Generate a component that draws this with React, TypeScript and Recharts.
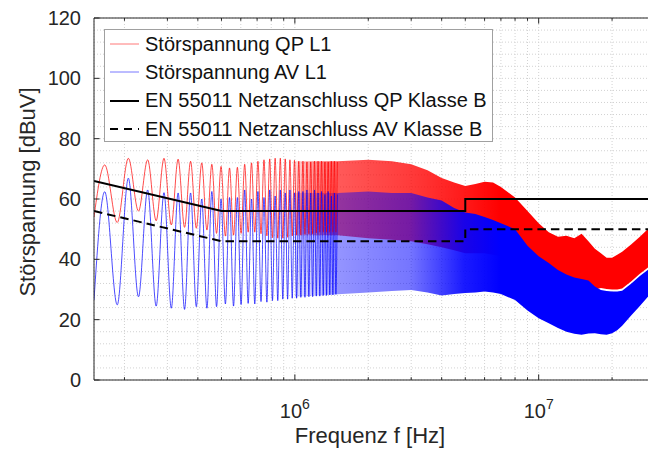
import React from "react";
import {
  ComposedChart,
  Line,
  Area,
  XAxis,
  YAxis,
  CartesianGrid,
  ReferenceLine,
} from "recharts";

const FONT = "'Liberation Sans', Arial, Helvetica, sans-serif";
const AXIS = "#262626";

// axes box in page pixels
const W = 660;
const H = 450;
const PLOT_LEFT = 94;
const PLOT_TOP = 18;
const PLOT_BOTTOM = 380;

// harmonics that can still be told apart (kHz)
const peakKHz = [
  166, 207.5, 249, 290.5, 332, 373.5, 415, 456.5, 498, 539.5, 581, 622.5, 664,
  705.5, 747, 788.5, 830, 871.5, 913, 954.5, 996, 1037.5, 1079, 1120.5, 1162,
  1203.5, 1245, 1286.5, 1328, 1369.5, 1411, 1452.5, 1494,
];
const valleyKHz = [
  186.8, 228.3, 269.8, 311.3, 352.8, 394.3, 435.8, 477.3, 518.8, 560.3, 601.8,
  643.3, 684.8, 726.3, 767.8, 809.3, 850.8, 892.3, 933.8, 975.3, 1016.8,
  1058.3, 1099.8, 1141.3, 1182.8, 1224.3, 1265.8, 1307.3, 1348.8, 1390.3,
  1431.8, 1473.3,
];
const qpStart = 54;
const qpPeaks = [
  71.3, 73.5, 73, 73.5, 73.2, 72.5, 72, 71.5, 70.8, 70.3, 70.5, 71.5, 72, 72.5,
  73, 73.3, 73.5, 73.5, 73.3, 73, 72.8, 72.5, 72.5, 72.3, 72.3, 72.5, 72.5,
  72.5, 72.3, 72.3, 72.5, 72.5, 72.3,
];
const qpValleys = [
  52.2, 56, 52.8, 51.4, 50.6, 50.3, 49.7, 48.6, 47.7, 48, 48.6, 49, 49, 48.5,
  47.8, 47.2, 47, 47, 47.3, 47.8, 48, 48, 48.3, 48.5, 48.5, 48.8, 49, 49, 49,
  49, 49, 49,
];
const avStart = 26.5;
const avPeaks = [
  62.4, 66.9, 63, 62.1, 62, 62, 60, 62.5, 60, 60.5, 60.5, 63, 60, 62.5, 60.5,
  63, 61, 63, 62, 63, 62, 62.5, 62.5, 63, 62, 63, 62, 62.5, 61.5, 62.5, 61, 62,
  61.5,
];
const avValleys = [
  24.9, 27.6, 24.5, 23.8, 23.4, 24.3, 23.8, 24.3, 25.2, 24.5, 25, 25.4, 25.2,
  26, 25.8, 26.3, 26.3, 26.8, 26.8, 27.1, 27.1, 27.4, 27.4, 27.6, 27.6, 27.8,
  27.8, 28, 28, 28.2, 28.2, 28.4,
];

// from ~1 MHz on the harmonics merge into a band (MHz, dBuV)
const bandMHz = [
  1, 1.25, 1.5, 2, 2.5, 3, 3.5, 4, 4.5, 5, 5.5, 6, 6.5, 7, 8, 9, 10, 11, 12, 13,
  14, 15, 16, 17, 18, 19, 20, 21, 22, 24, 26, 28, 30,
];
const qpUpper = [
  72.5, 72.5, 72.5, 73, 72.5, 71.5, 69.5, 67, 65.5, 64.3, 65, 65.7, 65.5, 64,
  60.5, 56, 52, 49, 47.5, 47.8, 47, 48.5, 46, 43.5, 42, 40.5, 40.5, 41.5, 42.5,
  45, 47.5, 50, 52,
];
const qpLower = [
  48, 48, 48, 47, 46.5, 46, 45, 44, 43, 42, 42, 42, 41.5, 41, 39, 37, 35, 33,
  31.5, 31, 30.5, 30.5, 30.5, 30, 30.5, 30.2, 30, 30, 30.3, 32.7, 35.2, 37.2,
  39.2,
];
const avUpper = [
  62, 62, 62, 62.5, 62, 62, 60.5, 59.5, 57, 55.5, 55, 54, 53, 52, 50, 44.5, 41,
  38.8, 36.5, 35, 34, 33.5, 33, 31, 29.8, 29.5, 29.3, 29.3, 29.6, 32, 34.5,
  36.5, 38.5,
];
const avLower = [
  27.6, 28, 28.4, 29, 29.5, 29.8, 29, 28, 28.5, 28.8, 29, 29.3, 29, 28.5, 26.5,
  23, 20.5, 18.8, 17.2, 16, 15.3, 15, 15.4, 15.5, 15.2, 15, 15.5, 16.5, 18,
  21.5, 24.5, 27.5, 30,
];

// EN 55011 class B mains limits
const limitHz = [150e3, 500e3, 5e6, 5e6, 30e6];
const qpLimit = [66, 56, 56, 60, 60];
const avLimit = [56, 46, 46, 50, 50];

const xTicks = [
  2e5, 3e5, 4e5, 5e5, 6e5, 7e5, 8e5, 9e5, 1e6, 2e6, 3e6, 4e6, 5e6, 6e6, 7e6,
  8e6, 9e6, 1e7, 2e7, 3e7,
];
const xLabelTicks = [1e6, 1e7];
const yTicks = [
  0, 4, 8, 12, 16, 20, 24, 28, 32, 36, 40, 44, 48, 52, 56, 60, 64, 68, 72, 76,
  80, 84, 88, 92, 96, 100, 104, 108, 112, 116, 120,
];
const yLabelTicks = [0, 20, 40, 60, 80, 100, 120];

const legendItems = [
  { name: "Störspannung QP L1", color: "#ff7878", width: 1, dash: undefined },
  { name: "Störspannung AV L1", color: "#7878ff", width: 1, dash: undefined },
  { name: "EN 55011 Netzanschluss QP Klasse B", color: "#000", width: 2, dash: undefined },
  { name: "EN 55011 Netzanschluss AV Klasse B", color: "#000", width: 2, dash: "8 6" },
];

function buildLine(start: number, peaks: number[], valleys: number[]) {
  const pts = [{ f: 150e3, v: start }];
  peakKHz.forEach((k, i) => {
    pts.push({ f: k * 1000, v: peaks[i] });
    if (i < valleyKHz.length) pts.push({ f: valleyKHz[i] * 1000, v: valleys[i] });
  });
  return pts;
}

const qpLine = buildLine(qpStart, qpPeaks, qpValleys);
const avLine = buildLine(avStart, avPeaks, avValleys);
const band = bandMHz.map((m, i) => ({
  f: m * 1e6,
  qp: [qpLower[i], qpUpper[i]],
  av: [avLower[i], avUpper[i]],
}));
const limits = limitHz.map((f, i) => ({ f, qp: qpLimit[i], av: avLimit[i] }));

// the band fades in where the single harmonics get dense
function Fade({ id, color, start }: { id: string; color: string; start: number }) {
  return (
    <linearGradient id={id} x1="0" y1="0" x2="1" y2="0">
      <stop offset="0" stopColor={color} stopOpacity={0.15} />
      <stop offset="0.06" stopColor={color} stopOpacity={start - 0.2} />
      <stop offset="0.12" stopColor={color} stopOpacity={start} />
      <stop offset="0.32" stopColor={color} stopOpacity={start + 0.12} />
      <stop offset="0.47" stopColor={color} stopOpacity={0.9} />
      <stop offset="0.57" stopColor={color} stopOpacity={1} />
    </linearGradient>
  );
}

const XTick = (props: any) => {
  const { x, payload } = props;
  const major = xLabelTicks.includes(payload.value);
  const len = major ? 5.6 : 2.8;
  return (
    <g>
      <line x1={x} y1={PLOT_BOTTOM} x2={x} y2={PLOT_BOTTOM - len} stroke={AXIS} />
      <line x1={x} y1={PLOT_TOP} x2={x} y2={PLOT_TOP + len} stroke={AXIS} />
      {major && (
        <text x={x} y={418} textAnchor="middle" fontSize={20} fill={AXIS} fontFamily={FONT}>
          10
          <tspan dy={-9} fontSize={14}>
            {Math.round(Math.log10(payload.value))}
          </tspan>
        </text>
      )}
    </g>
  );
};

const YTick = (props: any) => {
  const { y, payload } = props;
  if (!yLabelTicks.includes(payload.value)) return <g />;
  return (
    <g>
      <line x1={PLOT_LEFT} y1={y} x2={PLOT_LEFT + 5.6} y2={y} stroke={AXIS} />
      <text x={81} y={y + 7} textAnchor="end" fontSize={20} fill={AXIS} fontFamily={FONT}>
        {payload.value}
      </text>
    </g>
  );
};

const XTitle = () => (
  <text x={370} y={443} textAnchor="middle" fontSize={22} fill={AXIS} fontFamily={FONT}>
    Frequenz f [Hz]
  </text>
);

const YTitle = () => (
  <text
    transform="translate(35,192) rotate(-90)"
    textAnchor="middle"
    fontSize={22}
    fill={AXIS}
    fontFamily={FONT}
  >
    Störspannung [dBuV]
  </text>
);

function LegendBox() {
  return (
    <div
      style={{
        position: "absolute",
        left: 104,
        top: 29,
        width: 389,
        height: 113,
        boxSizing: "border-box",
        border: "1px solid #a0a0a0",
        background: "#fff",
        fontFamily: FONT,
        fontSize: 20,
        color: "#111",
      }}
    >
      {legendItems.map((it) => (
        <div
          key={it.name}
          style={{ height: 28.3, display: "flex", alignItems: "center", whiteSpace: "nowrap" }}
        >
          <svg width={40} height={10} style={{ flex: "none" }}>
            <line
              x1={5}
              y1={5}
              x2={34}
              y2={5}
              stroke={it.color}
              strokeWidth={it.width}
              strokeDasharray={it.dash}
            />
          </svg>
          <span>{it.name}</span>
        </div>
      ))}
    </div>
  );
}

export default function App() {
  return (
    <div
      style={{
        position: "absolute",
        left: 0,
        top: 0,
        width: 648,
        height: 450,
        overflow: "hidden",
        background: "#fff",
      }}
    >
      <ComposedChart width={W} height={H} margin={{ top: PLOT_TOP, right: 5, bottom: 0, left: 0 }}>
        <defs>
          <Fade id="qpFade" color="#ff0000" start={0.65} />
          <Fade id="avFade" color="#0000ff" start={0.42} />
        </defs>
        <CartesianGrid stroke="#d2d2d2" strokeDasharray="1 2" />
        <XAxis
          dataKey="f"
          type="number"
          scale="log"
          domain={[150e3, 30e6]}
          allowDataOverflow
          ticks={xTicks}
          interval={0}
          height={70}
          tickLine={false}
          tick={XTick}
          axisLine={{ stroke: AXIS }}
          label={<XTitle />}
        />
        <YAxis
          type="number"
          domain={[0, 120]}
          ticks={yTicks}
          interval={0}
          width={PLOT_LEFT}
          tickLine={false}
          tick={YTick}
          axisLine={{ stroke: AXIS }}
          label={<YTitle />}
        />
        <Line
          data={qpLine}
          dataKey="v"
          type="monotone"
          stroke="#ff0000"
          strokeOpacity={0.7}
          strokeWidth={1}
          dot={false}
          isAnimationActive={false}
        />
        <Area
          data={band}
          dataKey="qp"
          type="linear"
          stroke="none"
          fill="url(#qpFade)"
          fillOpacity={1}
          isAnimationActive={false}
        />
        <Line
          data={avLine}
          dataKey="v"
          type="monotone"
          stroke="#0000ff"
          strokeOpacity={0.7}
          strokeWidth={1}
          dot={false}
          isAnimationActive={false}
        />
        <Area
          data={band}
          dataKey="av"
          type="linear"
          stroke="none"
          fill="url(#avFade)"
          fillOpacity={1}
          isAnimationActive={false}
        />
        <Line
          data={limits}
          dataKey="qp"
          type="linear"
          stroke="#000"
          strokeWidth={2}
          dot={false}
          isAnimationActive={false}
        />
        <Line
          data={limits}
          dataKey="av"
          type="linear"
          stroke="#000"
          strokeWidth={2}
          strokeDasharray="8.5 5"
          dot={false}
          isAnimationActive={false}
        />
        <ReferenceLine y={120} stroke={AXIS} strokeWidth={1} />
      </ComposedChart>
      <LegendBox />
    </div>
  );
}
